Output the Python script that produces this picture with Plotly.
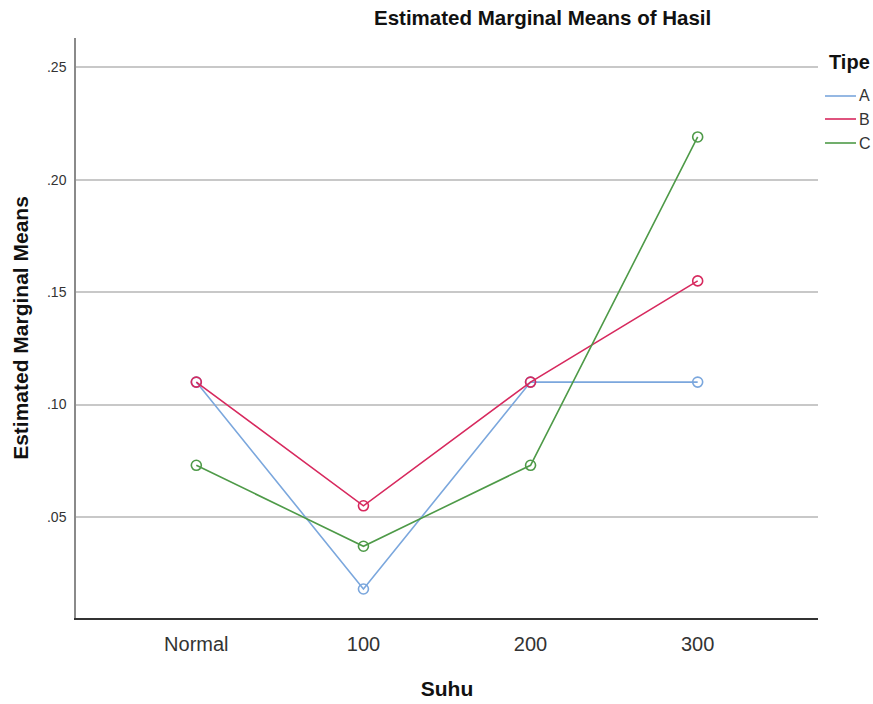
import plotly.graph_objects as go

suhu = ["Normal", "100", "200", "300"]
tipe = ["A", "B", "C"]
vals_A = [0.110, 0.018, 0.110, 0.110]
vals_B = [0.110, 0.055, 0.110, 0.155]
vals_C = [0.073, 0.037, 0.073, 0.219]
y_tickvals = [0.05, 0.10, 0.15, 0.20, 0.25]
y_ticktext = [".05", ".10", ".15", ".20", ".25"]

colors = {"A": "#7ba7dd", "B": "#d7295e", "C": "#4e9a48"}
series = {"A": vals_A, "B": vals_B, "C": vals_C}

W, H = 873, 704
L, R, T, B = 76, 55, 38, 86
PW, PH = W - L - R, H - T - B


def px(sx):
    return (sx - L) / PW


def py(sy):
    return (T + PH - sy) / PH


fig = go.Figure()
for t in tipe:
    fig.add_trace(go.Scatter(
        x=suhu, y=series[t], name=t, mode="lines+markers", showlegend=False,
        line=dict(color=colors[t], width=1.6),
        marker=dict(symbol="circle-open", size=10, color=colors[t], line=dict(width=1.6)),
    ))

annotations = [
    dict(text="<b>Estimated Marginal Means of Hasil</b>",
         x=px(542), xref="paper", y=py(18), yref="paper", showarrow=False,
         font=dict(size=20.5, color="#111"), xanchor="center", yanchor="middle"),
    dict(text="<b>Tipe</b>", x=px(827), xref="paper", y=py(62), yref="paper",
         showarrow=False, font=dict(size=20, color="#111"), xanchor="left", yanchor="middle"),
]
shapes = []
leg_y = [96, 119, 143]
for t, sy in zip(tipe, leg_y):
    shapes.append(dict(type="line", xref="paper", yref="paper",
                       x0=px(825), x1=px(856), y0=py(sy), y1=py(sy),
                       line=dict(color=colors[t], width=1.6)))
    annotations.append(dict(text=t, x=px(857), xref="paper", y=py(sy), yref="paper",
                            showarrow=False, font=dict(size=16, color="#333"),
                            xanchor="left", yanchor="middle"))

fig.update_layout(
    width=W, height=H,
    margin=dict(l=L, r=R, t=T, b=B),
    paper_bgcolor="white", plot_bgcolor="white",
    font=dict(family="Liberation Sans, Arial, sans-serif", color="#222"),
    showlegend=False,
    annotations=annotations,
    shapes=shapes,
)

fig.update_xaxes(
    type="category", range=[-0.72, 3.72], automargin=False,
    showgrid=False, showline=True, linecolor="#333", linewidth=1.5,
    ticks="", ticklabelstandoff=7,
    tickfont=dict(size=20, color="#333"),
    title=dict(text="<b>Suhu</b>", font=dict(size=21, color="#111"), standoff=28),
    zeroline=False,
)
fig.update_yaxes(
    range=[0.0051, 0.263], automargin=False,
    tickvals=y_tickvals, ticktext=y_ticktext,
    showgrid=True, gridcolor="#c8c8c8", gridwidth=1.5,
    showline=True, linecolor="#8a8a8a", linewidth=1.5,
    ticks="", ticklabelstandoff=5,
    tickfont=dict(size=14, color="#333"),
    title=dict(text="<b>Estimated Marginal Means</b>", font=dict(size=21, color="#111"), standoff=13),
    zeroline=False,
)

fig.write_html(
    "out.html",
    config={"displayModeBar": False},
    post_script="document.body.style.margin='0';document.body.style.overflow='hidden';",
)
